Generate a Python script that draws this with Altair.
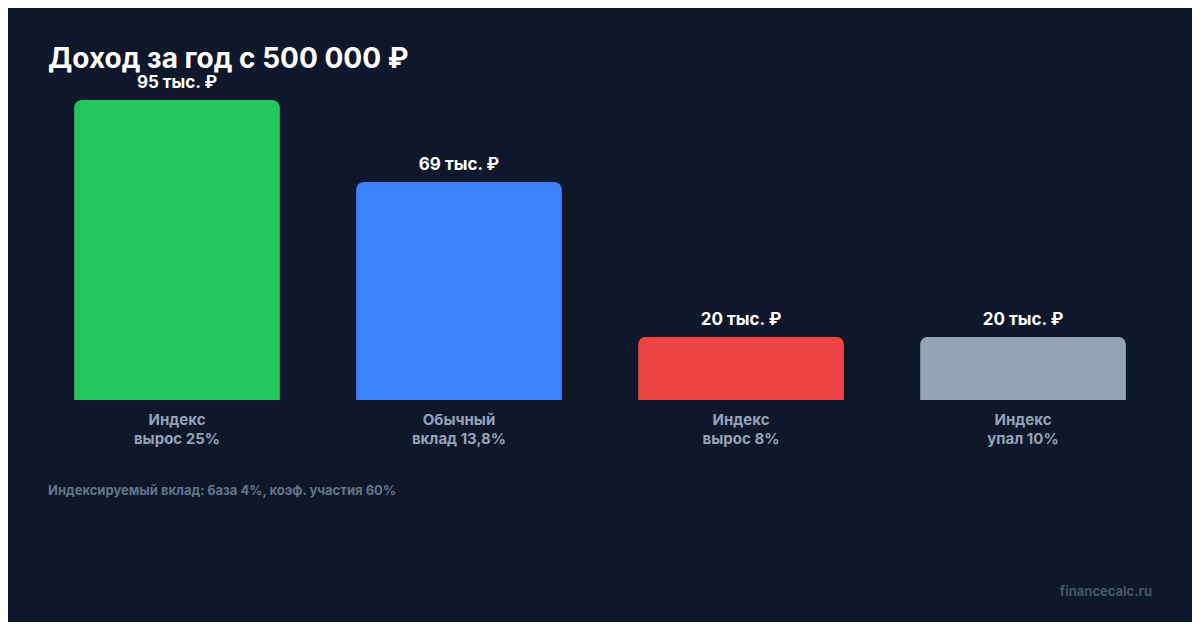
import altair as alt
import pandas as pd

categories = ["Индекс\nвырос 25%", "Обычный\nвклад 13,8%", "Индекс\nвырос 8%", "Индекс\nупал 10%"]
values = [95, 69, 20, 20]
value_labels = ["95 тыс. ₽", "69 тыс. ₽", "20 тыс. ₽", "20 тыс. ₽"]
colors = ["#22c55e", "#3b82f6", "#ef4444", "#94a3b8"]

title_text = "Доход за год с 500 000 ₽"
footnote_text = "Индексируемый вклад: база 4%, коэф. участия 60%"
watermark_text = "financecalc.ru"

FONT = "Inter"

df = pd.DataFrame({"cat": categories, "value": values, "label": value_labels, "color": colors})

x = alt.X("cat:N", sort=categories, axis=None,
          scale=alt.Scale(range=[28, 1156], paddingInner=0.27, paddingOuter=0.135))
y_scale = alt.Scale(domain=[0, 95], range=[392, 92], nice=False, zero=True)

base = alt.Chart(df)

bars = base.mark_bar(cornerRadiusTopLeft=8, cornerRadiusTopRight=8).encode(
    x=x,
    y=alt.Y("value:Q", scale=y_scale, axis=None),
    color=alt.Color("color:N", scale=None, legend=None),
)

vals = base.mark_text(font=FONT, fontSize=17, fontWeight="bold", color="#ffffff",
                      baseline="alphabetic", dy=-12).encode(
    x=x,
    y=alt.Y("value:Q", scale=y_scale, axis=None),
    text="label:N",
)

cats = base.mark_text(font=FONT, fontSize=15, fontWeight="bold", color="#94a3b8",
                      baseline="top", dy=13, lineBreak="\n", lineHeight=19).encode(
    x=x,
    y=alt.YDatum(0),
    text="cat:N",
)

title = alt.Chart(pd.DataFrame({"t": [title_text]})).mark_text(
    font=FONT, fontSize=28, fontWeight="bold", color="#ffffff",
    align="left", baseline="alphabetic").encode(
    x=alt.value(40), y=alt.value(60), text="t:N")

foot = alt.Chart(pd.DataFrame({"t": [footnote_text]})).mark_text(
    font=FONT, fontSize=13, fontWeight="bold", color="#64748b", align="left", baseline="middle").encode(
    x=alt.value(40), y=alt.value(483), text="t:N")

wm = alt.Chart(pd.DataFrame({"t": [watermark_text]})).mark_text(
    font=FONT, fontSize=13, fontWeight="bold", color="#475569", align="right", baseline="middle").encode(
    x=alt.value(1144), y=alt.value(584), text="t:N")

chart = alt.layer(bars, vals, cats, title, foot, wm).properties(
    width=1184, height=614,
    autosize=alt.AutoSizeParams(type="none"),
    padding=0,
    background="#0f172a",
).configure_view(stroke=None)

chart.save("out.html", embed_options={"renderer": "svg", "actions": False})
